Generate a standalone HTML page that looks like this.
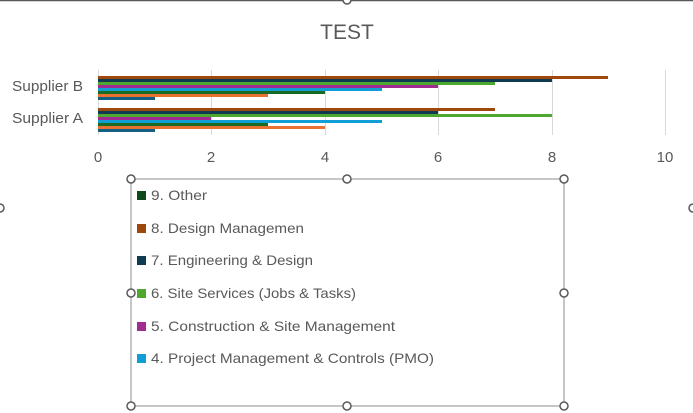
<!DOCTYPE html>
<html><head><meta charset="utf-8"><style>
html,body{margin:0;padding:0;background:#fff;}
svg{display:block;font-family:"Liberation Sans",sans-serif;}
</style></head><body>
<svg width="693" height="413" viewBox="0 0 693 413" xmlns="http://www.w3.org/2000/svg">
<rect x="0" y="0" width="693" height="413" fill="#fff"/>
<line x1="0" y1="0.5" x2="693" y2="0.5" stroke="#595959" stroke-width="1.5"/>
<circle cx="347" cy="0" r="4" fill="#fff" stroke="#595959" stroke-width="1.5"/>
<circle cx="0" cy="208" r="4" fill="#fff" stroke="#595959" stroke-width="1.5"/>
<circle cx="693" cy="208" r="4" fill="#fff" stroke="#595959" stroke-width="1.5"/>
<text x="347" y="39" text-anchor="middle" font-size="21" fill="#595959">TEST</text>
<g stroke="#d9d9d9" stroke-width="1">
<line x1="98.5" y1="70" x2="98.5" y2="135"/><line x1="211.5" y1="70" x2="211.5" y2="135"/>
<line x1="325.5" y1="70" x2="325.5" y2="135"/><line x1="438.5" y1="70" x2="438.5" y2="135"/>
<line x1="552.5" y1="70" x2="552.5" y2="135"/><line x1="665.5" y1="70" x2="665.5" y2="135"/>
</g>
<g>
<rect x="98" y="76" width="510" height="3" fill="#9e480e"/>
<rect x="98" y="79" width="454" height="3" fill="#0e3a52"/>
<rect x="98" y="82" width="397" height="3" fill="#4ea72e"/>
<rect x="98" y="85" width="340" height="3" fill="#a02b93"/>
<rect x="98" y="88" width="284" height="3" fill="#0f9ed5"/>
<rect x="98" y="91" width="227" height="3" fill="#196b24"/>
<rect x="98" y="94" width="170" height="3" fill="#e97132"/>
<rect x="98" y="97" width="57" height="3" fill="#156082"/>
<rect x="98" y="108" width="397" height="3" fill="#9e480e"/>
<rect x="98" y="111" width="340" height="3" fill="#0e3a52"/>
<rect x="98" y="114" width="454" height="3" fill="#4ea72e"/>
<rect x="98" y="117" width="113" height="3" fill="#a02b93"/>
<rect x="98" y="120" width="284" height="3" fill="#0f9ed5"/>
<rect x="98" y="123" width="170" height="3" fill="#196b24"/>
<rect x="98" y="126" width="227" height="3" fill="#e97132"/>
<rect x="98" y="129" width="57" height="3" fill="#156082"/>
</g>
<g font-size="14.5" fill="#595959">
<text x="12" y="91" textLength="71" lengthAdjust="spacingAndGlyphs">Supplier B</text>
<text x="12" y="123" textLength="71" lengthAdjust="spacingAndGlyphs">Supplier A</text>
</g>
<g font-size="15" fill="#595959" text-anchor="middle">
<text x="98" y="162">0</text><text x="211" y="162">2</text><text x="325" y="162">4</text>
<text x="438" y="162">6</text><text x="552" y="162">8</text><text x="665" y="162">10</text>
</g>
<rect x="131" y="179" width="433" height="227" fill="none" stroke="#8c8c8c" stroke-width="1"/>
<g fill="#fff" stroke="#595959" stroke-width="1.5">
<circle cx="131" cy="179" r="4"/><circle cx="347" cy="179" r="4"/><circle cx="564" cy="179" r="4"/>
<circle cx="131" cy="293" r="4"/><circle cx="564" cy="293" r="4"/>
<circle cx="131" cy="406" r="4"/><circle cx="347" cy="406" r="4"/><circle cx="564" cy="406" r="4"/>
</g>
<g font-size="14" fill="#595959" lengthAdjust="spacingAndGlyphs">
<rect x="137" y="191" width="9" height="9" fill="#0e4a1c"/><text x="151" y="200" textLength="56" lengthAdjust="spacingAndGlyphs">9. Other</text>
<rect x="137" y="224" width="9" height="9" fill="#9e480e"/><text x="151" y="233" textLength="153" lengthAdjust="spacingAndGlyphs">8. Design Managemen</text>
<rect x="137" y="256" width="9" height="9" fill="#0e3a52"/><text x="151" y="265" textLength="162" lengthAdjust="spacingAndGlyphs">7. Engineering &amp; Design</text>
<rect x="137" y="289" width="9" height="9" fill="#4ea72e"/><text x="151" y="298" textLength="205" lengthAdjust="spacingAndGlyphs">6. Site Services (Jobs &amp; Tasks)</text>
<rect x="137" y="322" width="9" height="9" fill="#a02b93"/><text x="151" y="331" textLength="244" lengthAdjust="spacingAndGlyphs">5. Construction &amp; Site Management</text>
<rect x="137" y="354" width="9" height="9" fill="#0f9ed5"/><text x="151" y="363" textLength="283" lengthAdjust="spacingAndGlyphs">4. Project Management &amp; Controls (PMO)</text>
</g>
</svg>
</body></html>
